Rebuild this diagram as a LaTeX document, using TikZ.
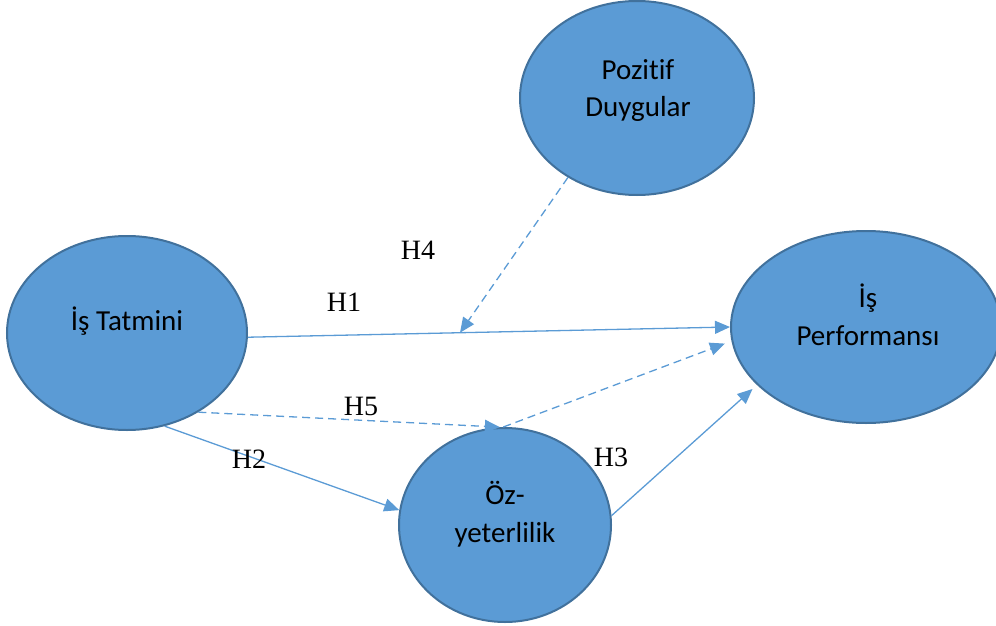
\documentclass[tikz,border=0pt]{standalone}
\usepackage{fontspec}
\setmainfont{Carlito}[RawFeature={-liga;-calt}]
\newfontfamily\labfont{Liberation Serif}
\usetikzlibrary{shapes.geometric,arrows.meta}
\definecolor{fillb}{HTML}{5B9BD5}
\definecolor{edgeb}{HTML}{41719C}
\definecolor{lineb}{HTML}{5B9BD5}
\begin{document}
\begin{tikzpicture}[x=1pt,y=-1pt,
  blob/.style={ellipse, draw=edgeb, fill=fillb, line width=2pt, inner sep=0pt},
  ctext/.style={font=\fontsize{29}{38}\selectfont, align=center, anchor=base, inner sep=0pt},
  hlab/.style={font=\labfont\fontsize{28}{30}\selectfont, inner sep=0pt},
  conn/.style={draw=lineb, line width=1.3pt, -{Triangle[length=15pt,width=13pt]}},
  dconn/.style={conn, dash pattern=on 8pt off 5pt}]
\useasboundingbox (0,0) rectangle (996,626);
\clip (0,0) rectangle (996,626);
% ellipses
\node[blob, minimum width=240pt, minimum height=194pt] (tat) at (127,333) {};
\node[blob, minimum width=234pt, minimum height=194pt] (poz) at (637,98) {};
\node[blob, minimum width=270pt, minimum height=192pt] (perf) at (866,327) {};
\node[blob, minimum width=212pt, minimum height=194pt] (oz) at (505,525) {};
% texts (base anchor = baseline of last line)
\node[ctext] (tatT) at (127,330) {İş Tatmini};
\node[ctext] (pozT) at (638,117) {Pozit\kern0pt if\\Duygular};
\node[ctext] (perfT) at (868,345) {İş\\Performansı};
\node[ctext] (ozT) at (505,542) {Öz-\\yeterlilik};
% connectors
\path (tat.-2) -- coordinate[pos=0.44] (hmid) (perf.180);
\draw[conn] (tat.-2) -- (perf.180);
\draw[dconn] (poz.229) -- (hmid);
\draw[dconn] (tat.-48) -- (oz.93);
\draw[dconn, shorten >=7pt] (oz.91) -- (perf.186);
\draw[conn] (tat.-68.6) -- (oz.172);
\draw[conn, shorten >=6pt] (oz.5) -- (perf.208);
% labels
\node[hlab] (h4) at (418,250) {H4};
\node[hlab] (h1) at (344,302) {H1};
\node[hlab] (h5) at (361,406) {H5};
\node[hlab] (h2) at (249,459) {H2};
\node[hlab] (h3) at (611,457) {H3};
\end{tikzpicture}
\end{document}
